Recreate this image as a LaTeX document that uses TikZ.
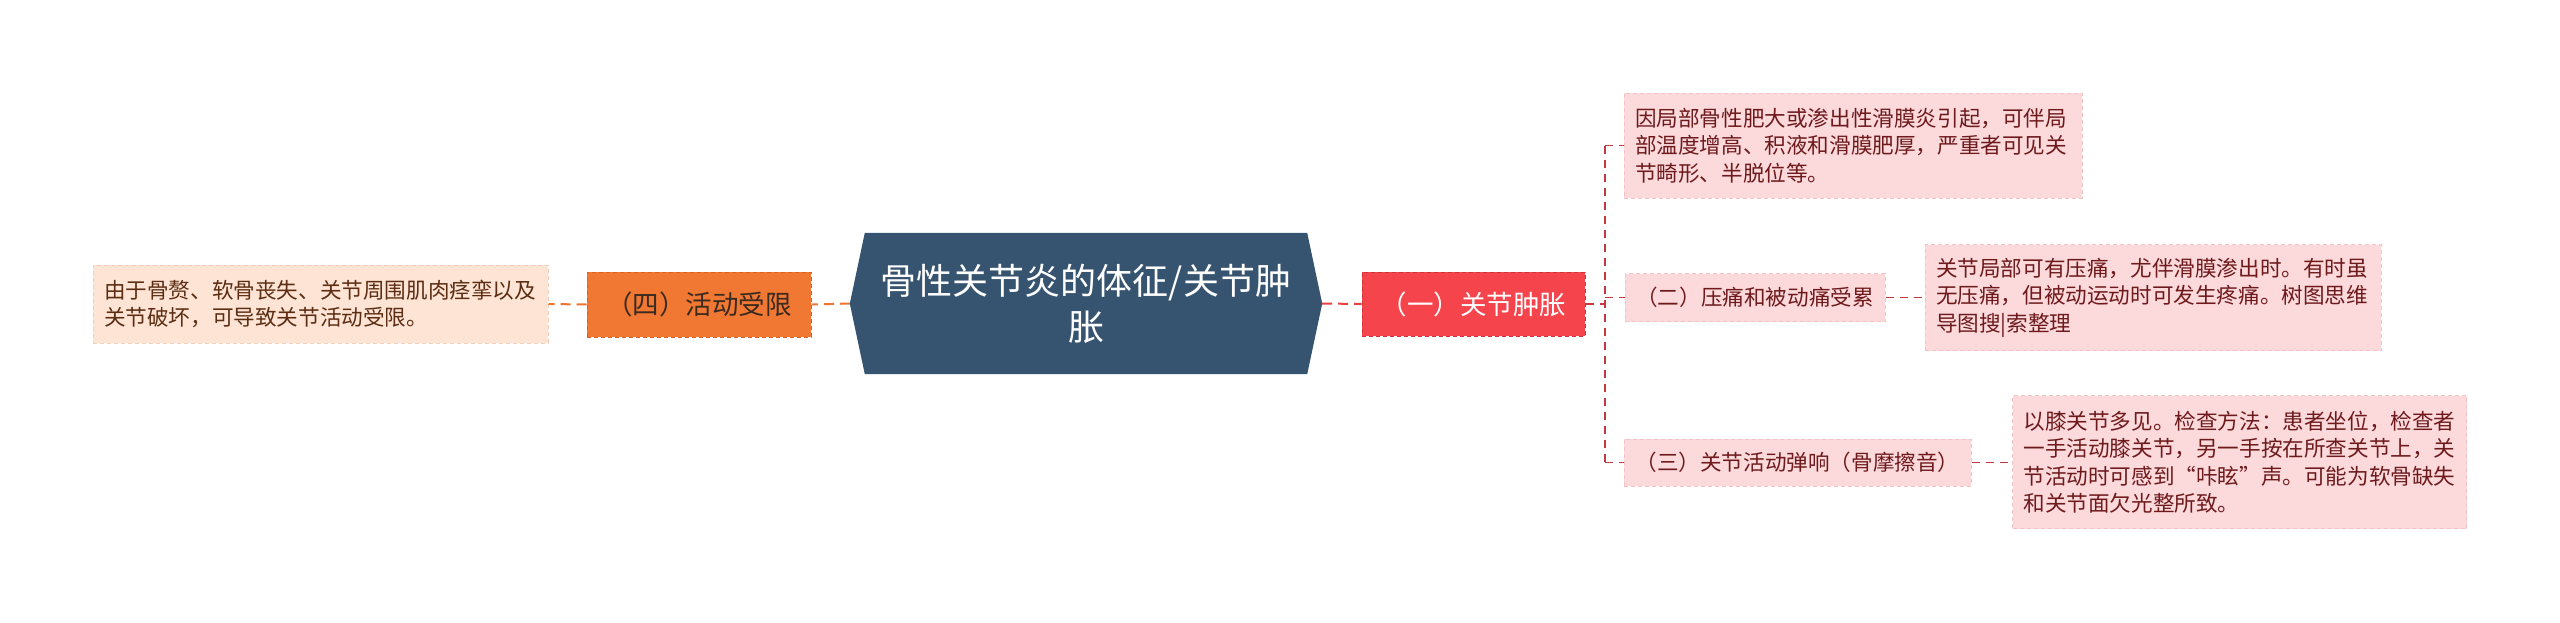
\documentclass[tikz,border=0pt]{standalone}
\usepackage{fontspec}
\setmainfont{Noto Sans CJK SC}
\pgfdeclarelayer{background}
\pgfsetlayers{background,main}
\definecolor{cfill}{HTML}{36536F}
\definecolor{ofill}{HTML}{F07832}
\definecolor{odraw}{HTML}{D8621E}
\definecolor{rfill}{HTML}{F5444B}
\definecolor{rdraw}{HTML}{C9333A}
\definecolor{pfill}{HTML}{FCDADC}
\definecolor{pdraw}{HTML}{F3C2C5}
\definecolor{peach}{HTML}{FDE4D5}
\definecolor{peachd}{HTML}{F6CDB5}
\definecolor{maroon}{HTML}{6E1A1D}
\definecolor{brownt}{HTML}{5C2D12}
\definecolor{otext}{HTML}{3A2A20}
\definecolor{rline}{HTML}{C23A3E}
\definecolor{oline}{HTML}{EE7431}
\definecolor{redline}{HTML}{E8403F}
\tikzset{
  box/.style={rectangle, inner xsep=0pt, inner ysep=0pt, anchor=center, line width=1pt, dash pattern=on 4pt off 3pt},
  leafR/.style={box, fill=pfill, draw=pdraw, text=maroon, align=left, font=\fontsize{21.6}{27.5}\selectfont},
  leafL/.style={box, fill=peach, draw=peachd, text=brownt, align=left, font=\fontsize{21.6}{27.5}\selectfont},
  subR/.style={box, fill=pfill, draw=pdraw, text=maroon, align=center, font=\fontsize{21.6}{27.5}\selectfont},
  mainO/.style={box, fill=ofill, draw=odraw, text=otext, align=center, font=\fontsize{26.5}{32}\selectfont},
  mainR/.style={box, fill=rfill, draw=rdraw, text=white, align=center, font=\fontsize{26.5}{32}\selectfont},
  centre/.style={rectangle, inner sep=0pt, anchor=center, text=white, align=center, font=\fontsize{36}{46}\selectfont},
  rconn/.style={draw=rline, line width=1.6pt, dash pattern=on 8pt off 6pt},
  oconn/.style={draw=oline, line width=2pt, dash pattern=on 10pt off 6pt},
  redconn/.style={draw=redline, line width=2pt, dash pattern=on 10pt off 6pt},
}
\begin{document}
\begin{tikzpicture}[x=1pt,y=-1pt]
\useasboundingbox (0,0) rectangle (2560,622);

% central node
\node[centre, minimum width=442pt, minimum height=141pt, text width=440pt] (C) at (1086,303.5)
  {骨性关节炎的体征/关节肿\\胀};
\coordinate (CL) at ([xshift=-15pt]C.west);
\coordinate (CR) at ([xshift=15pt]C.east);
\begin{pgfonlayer}{background}
\fill[cfill] (C.north west) -- (C.north east) -- (CR) -- (C.south east) -- (C.south west) -- (CL) -- cycle;
\end{pgfonlayer}

% left side
\node[mainO, minimum width=224pt, minimum height=65pt] (O) at (699,304.5) {（四）活动受限};
\node[leafL, minimum width=455pt, minimum height=78pt, text width=433pt] (L) at (320.5,304)
  {由于骨赘、软骨丧失、关节周围肌肉痉挛以及\\关节破坏，可导致关节活动受限。};

% right side
\node[mainR, minimum width=223pt, minimum height=64pt] (R) at (1473.5,304) {（一）关节肿胀};
\node[leafR, minimum width=458pt, minimum height=105pt, text width=436pt] (T) at (1853,145.5)
  {因局部骨性肥大或渗出性滑膜炎引起，可伴局\\部温度增高、积液和滑膜肥厚，严重者可见关\\节畸形、半脱位等。};
\node[subR, minimum width=260pt, minimum height=48pt] (M2) at (1755,297.5) {（二）压痛和被动痛受累};
\node[leafR, minimum width=456pt, minimum height=106pt, text width=434pt] (ML) at (2153,297.5)
  {关节局部可有压痛，尤伴滑膜渗出时。有时虽\\无压痛，但被动运动时可发生疼痛。树图思维\\导图搜|索整理};
\node[subR, minimum width=347pt, minimum height=47pt] (M3) at (1797.5,462.5) {（三）关节活动弹响（骨摩擦音）};
\node[leafR, minimum width=454pt, minimum height=133pt, text width=432pt] (BL) at (2239.5,462)
  {以膝关节多见。检查方法：患者坐位，检查者\\一手活动膝关节，另一手按在所查关节上，关\\节活动时可感到“咔眩”声。可能为软骨缺失\\和关节面欠光整所致。};

% connectors
\draw[oconn] (CL) -- (O.east);
\draw[oconn] (O.west) -- (L.east);
\draw[redconn] (CR) -- (R.west);
\coordinate (J) at (1605,304);
\coordinate (Jt) at (J |- T.west);
\coordinate (Jb) at (J |- M3.west);
\coordinate (Jm) at (J |- M2.west);
\draw[rconn] (R.east) -- (J);
\draw[rconn] (Jt) -- (Jb);
\draw[rconn] (Jt) -- (T.west);
\draw[rconn] (Jm) -- (M2.west);
\draw[rconn] (Jb) -- (M3.west);
\draw[rconn] (M2.east) -- (ML.west |- M2.east);
\draw[rconn] (M3.east) -- (BL.west |- M3.east);
\end{tikzpicture}
\end{document}
